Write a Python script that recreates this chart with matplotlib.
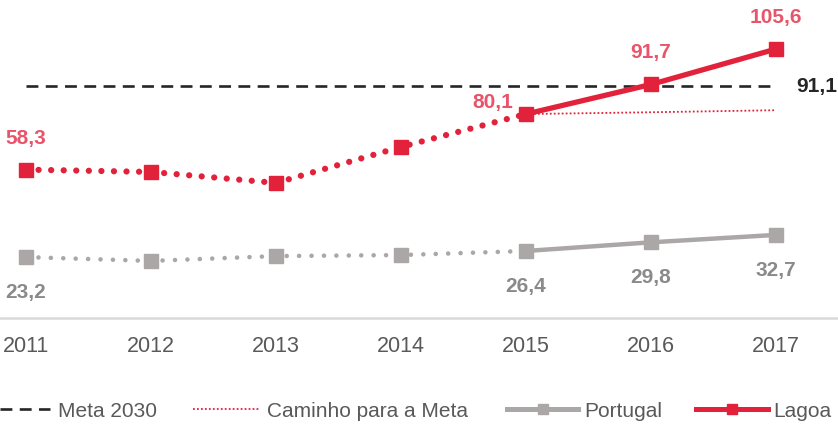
import matplotlib.pyplot as plt
from matplotlib.lines import Line2D

plt.rcParams['font.family'] = ['Liberation Sans', 'DejaVu Sans']

years = [2011, 2012, 2013, 2014, 2015, 2016, 2017]
lagoa = [58.3, 57.4, 53.1, 67.2, 80.1, 91.7, 105.6]
portugal = [24.0, 22.5, 24.4, 24.8, 26.4, 29.8, 32.7]
caminho_years = [2015, 2016, 2017]
caminho = [80.1, 80.8, 81.6]
meta_2030 = 91.1

lagoa_labels = {2011: '58,3', 2015: '80,1', 2016: '91,7', 2017: '105,6'}
portugal_labels = {2011: '23,2', 2015: '26,4', 2016: '29,8', 2017: '32,7'}

red = '#E2213A'
red_txt = '#E9546A'
grey = '#ABA7A7'
grey_txt = '#8A8A8A'
dark = '#262626'

W, H = 838, 427
fig = plt.figure(figsize=(W / 100, H / 100), dpi=100)
ax = fig.add_axes([0, 1 - 319.3 / H, 1, 319.3 / H])
ax.set_xlim(2011 - 26 / 125, 2017 + 62 / 125)
ax.set_ylim(0, 319.3 / 2.55)

meta_style = (0, (4.5, 2.8))
caminho_style = (0, (1, 1.2))

# meta 2030
ax.plot([years[0], years[-1]], [meta_2030, meta_2030], color=dark, lw=1.9,
        linestyle=meta_style)
ax.text(2017 + 20 / 125, meta_2030, '91,1', color=dark, fontsize=15,
        fontweight='bold', ha='left', va='center')

# caminho para a meta
ax.plot(caminho_years, caminho, color=red, lw=1.3, linestyle=caminho_style)

# portugal
ax.plot(years[:5], portugal[:5], color=grey, lw=3.3, linestyle=(0, (0.01, 2.7)),
        dash_capstyle='round', zorder=3)
ax.plot(years[4:], portugal[4:], color=grey, lw=3.2, zorder=3)
ax.plot(years, portugal, 's', color=grey, markersize=9.5, zorder=4)

# lagoa
ax.plot(years[:5], lagoa[:5], color=red, lw=4.5, linestyle=(0, (0.01, 2.0)),
        dash_capstyle='round', zorder=5)
ax.plot(years[4:], lagoa[4:], color=red, lw=3.8, zorder=5)
ax.plot(years, lagoa, 's', color=red, markersize=10, zorder=6)

for i, y in enumerate(years):
    if y in lagoa_labels:
        off = (-33, 3) if y == 2015 else (0, 23)
        ax.annotate(lagoa_labels[y], (y, lagoa[i]), xytext=off,
                    textcoords='offset pixels', ha='center', va='bottom',
                    color=red_txt, fontsize=15, fontweight='bold')
    if y in portugal_labels:
        ax.annotate(portugal_labels[y], (y, portugal[i]), xytext=(0, -25),
                    textcoords='offset pixels', ha='center', va='top',
                    color=grey_txt, fontsize=15, fontweight='bold')

for s in ['top', 'right', 'left']:
    ax.spines[s].set_visible(False)
ax.spines['bottom'].set_color('#D9D9D9')
ax.spines['bottom'].set_linewidth(1.8)
ax.set_yticks([])
ax.set_xticks(years)
ax.tick_params(axis='x', length=0, pad=12, labelsize=15.5, labelcolor='#595959')

# legend: one entry each, placed like the original
fs = 15
em = fs * 100 / 72
entries = [
    (Line2D([], [], color=dark, lw=1.9, linestyle=meta_style), 'Meta 2030', 0, 50, 8),
    (Line2D([], [], color=red, lw=1.3, linestyle=caminho_style), 'Caminho para a Meta', 193, 67, 7),
    (Line2D([], [], color=grey, lw=3.6, marker='s', markersize=6.5), 'Portugal', 507, 71, 6),
    (Line2D([], [], color=red, lw=3.6, marker='s', markersize=6.5), 'Lagoa', 696, 72, 5),
]
for h, lab, x0, hl, pad in entries:
    fig.legend([h], [lab], loc='center left', bbox_to_anchor=(x0 / W, 1 - 412 / H),
               frameon=False, fontsize=fs, handlelength=hl / em,
               handletextpad=pad / em, labelcolor='#595959',
               borderaxespad=0, borderpad=0)

fig.savefig('out.png', dpi=100)
